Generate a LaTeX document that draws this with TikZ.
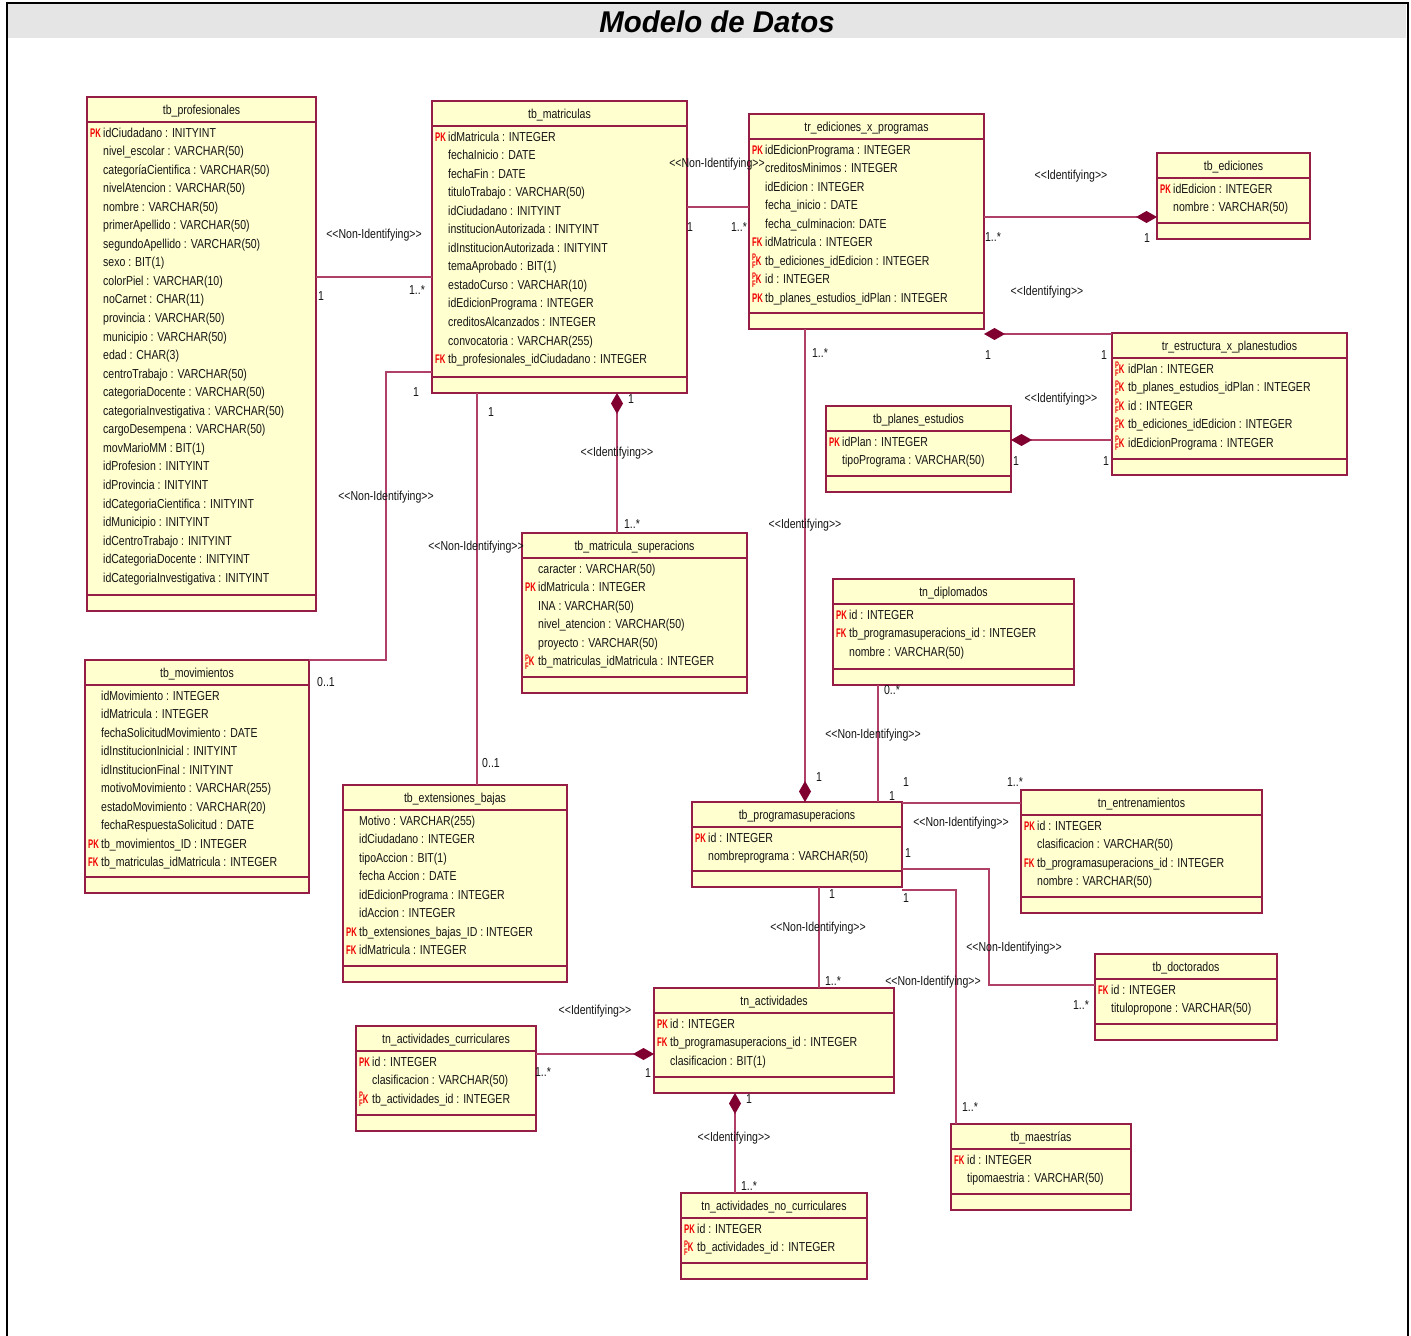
\documentclass[tikz,border=0pt]{standalone}
\usepackage{fontspec}
\usetikzlibrary{arrows.meta}
\newfontfamily\cnd{Liberation Sans}[FakeStretch=0.81]
\newfontfamily\mkf{Liberation Sans}[FakeStretch=0.62]
\newfontfamily\ttl{Liberation Sans}[FakeStretch=0.98]
\definecolor{boxc}{RGB}{150,30,70}
\definecolor{boxf}{RGB}{255,255,208}
\definecolor{connc}{RGB}{176,64,104}
\definecolor{diam}{RGB}{128,0,48}
\definecolor{keyred}{RGB}{240,0,0}
\definecolor{txt}{RGB}{20,20,20}
\definecolor{band}{RGB}{229,229,229}
% key markers
\newcommand\PK{{\fontsize{12.5}{13}\mkf\bfseries\color{keyred}PK}}
\newcommand\FK{{\fontsize{12.5}{13}\mkf\bfseries\color{keyred}FK}}
\newcommand\PF{{\fontsize{12.5}{13}\mkf\bfseries\color{keyred}\rlap{\raisebox{4.5pt}{\fontsize{9.5}{9}\selectfont P}}\raisebox{-3.5pt}{\fontsize{9.5}{9}\selectfont F}K}}
\newcommand\NO{}
\tikzset{
  tbox/.style={draw=boxc, fill=boxf, line width=1.2pt, anchor=north west, inner sep=0pt, outer sep=0pt},
  tsep/.style={draw=boxc, line width=1.2pt},
  ttitle/.style={inner sep=0pt, text height=9.5pt, text depth=2.5pt, text=txt, font={\fontsize{13}{15}\cnd}},
  attr/.style={anchor=west, inner sep=0pt, text height=9.5pt, text depth=2.5pt, text=txt, font={\fontsize{13}{15}\cnd}},
  lbl/.style={inner sep=0pt, text height=9.5pt, text depth=2.5pt, text=txt, font={\fontsize{13}{15}\cnd}},
  conn/.style={draw=connc, line width=1.1pt},
  dia/.tip={Diamond[length=21pt, width=12pt, color=diam, fill=diam]}
}
% table: name, x, y, width, height, title, attribute list
\newcommand\tabla[7]{%
  \node[tbox, minimum width=#4pt, minimum height=#5pt] (#1) at (#2,#3) {};
  \draw[tsep] (#2,#3+25) -- ++(#4,0);
  \draw[tsep] (#2,#3+#5-16) -- ++(#4,0);
  \node[ttitle] (#1-t) at (#2+#4/2,#3+13.5) {#6};
  \foreach \m/\t [count=\i from 0] in {#7}
    \node[attr] (#1-\i) at (#2+3,#3+36.5+18.55*\i) {\makebox[13pt][l]{\m}\t};
}
\begin{document}
\begin{tikzpicture}[x=1pt,y=-1pt]
\useasboundingbox (0,0) rectangle (1411,1336);
% frame and title band
\fill[band] (8,4) rectangle (1406,38);
\draw[black, line width=2pt] (7,1336) -- (7,3) -- (1408,3) -- (1408,1336);
\node[inner sep=0pt, font={\fontsize{30}{34}\ttl\bfseries\itshape}] (titulo) at (717,22) {Modelo de Datos};

% ---------- tables ----------
\tabla{prof}{87}{97}{229}{514}{tb\_profesionales}{%
\PK/idCiudadano : INITYINT,
\NO/nivel\_escolar : VARCHAR(50),
\NO/categoríaCientifica : VARCHAR(50),
\NO/nivelAtencion : VARCHAR(50),
\NO/nombre : VARCHAR(50),
\NO/primerApellido : VARCHAR(50),
\NO/segundoApellido : VARCHAR(50),
\NO/sexo : BIT(1),
\NO/colorPiel : VARCHAR(10),
\NO/noCarnet : CHAR(11),
\NO/provincia : VARCHAR(50),
\NO/municipio : VARCHAR(50),
\NO/edad : CHAR(3),
\NO/centroTrabajo : VARCHAR(50),
\NO/categoriaDocente : VARCHAR(50),
\NO/categoriaInvestigativa : VARCHAR(50),
\NO/cargoDesempena : VARCHAR(50),
\NO/movMarioMM : BIT(1),
\NO/idProfesion : INITYINT,
\NO/idProvincia : INITYINT,
\NO/idCategoriaCientifica : INITYINT,
\NO/idMunicipio : INITYINT,
\NO/idCentroTrabajo : INITYINT,
\NO/idCategoriaDocente : INITYINT,
\NO/idCategoriaInvestigativa : INITYINT}

\tabla{matr}{432}{101}{255}{292}{tb\_matriculas}{%
\PK/idMatricula : INTEGER,
\NO/fechaInicio : DATE,
\NO/fechaFin : DATE,
\NO/tituloTrabajo : VARCHAR(50),
\NO/idCiudadano : INITYINT,
\NO/institucionAutorizada : INITYINT,
\NO/idInstitucionAutorizada : INITYINT,
\NO/temaAprobado : BIT(1),
\NO/estadoCurso : VARCHAR(10),
\NO/idEdicionPrograma : INTEGER,
\NO/creditosAlcanzados : INTEGER,
\NO/convocatoria : VARCHAR(255),
\FK/tb\_profesionales\_idCiudadano : INTEGER}

\tabla{edx}{749}{114}{235}{215}{tr\_ediciones\_x\_programas}{%
\PK/idEdicionPrograma : INTEGER,
\NO/creditosMinimos : INTEGER,
\NO/idEdicion : INTEGER,
\NO/fecha\_inicio : DATE,
\NO/fecha\_culminacion: DATE,
\FK/idMatricula : INTEGER,
\PF/tb\_ediciones\_idEdicion : INTEGER,
\PF/id : INTEGER,
\PK/tb\_planes\_estudios\_idPlan : INTEGER}

\tabla{edic}{1157}{153}{153}{86}{tb\_ediciones}{%
\PK/idEdicion : INTEGER,
\NO/nombre : VARCHAR(50)}

\tabla{estr}{1112}{333}{235}{142}{tr\_estructura\_x\_planestudios}{%
\PF/idPlan : INTEGER,
\PF/tb\_planes\_estudios\_idPlan : INTEGER,
\PF/id : INTEGER,
\PF/tb\_ediciones\_idEdicion : INTEGER,
\PF/idEdicionPrograma : INTEGER}

\tabla{plan}{826}{406}{185}{86}{tb\_planes\_estudios}{%
\PK/idPlan : INTEGER,
\NO/tipoPrograma : VARCHAR(50)}

\tabla{msup}{522}{533}{225}{160}{tb\_matricula\_superacions}{%
\NO/caracter : VARCHAR(50),
\PK/idMatricula : INTEGER,
\NO/INA : VARCHAR(50),
\NO/nivel\_atencion : VARCHAR(50),
\NO/proyecto : VARCHAR(50),
\PF/tb\_matriculas\_idMatricula : INTEGER}

\tabla{dipl}{833}{579}{241}{106}{tn\_diplomados}{%
\PK/id : INTEGER,
\FK/tb\_programasuperacions\_id : INTEGER,
\NO/nombre : VARCHAR(50)}

\tabla{movi}{85}{660}{224}{233}{tb\_movimientos}{%
\NO/idMovimiento : INTEGER,
\NO/idMatricula : INTEGER,
\NO/fechaSolicitudMovimiento : DATE,
\NO/idInstitucionInicial : INITYINT,
\NO/idInstitucionFinal : INITYINT,
\NO/motivoMovimiento : VARCHAR(255),
\NO/estadoMovimiento : VARCHAR(20),
\NO/fechaRespuestaSolicitud : DATE,
\PK/tb\_movimientos\_ID : INTEGER,
\FK/tb\_matriculas\_idMatricula : INTEGER}

\tabla{ext}{343}{785}{224}{197}{tb\_extensiones\_bajas}{%
\NO/Motivo : VARCHAR(255),
\NO/idCiudadano : INTEGER,
\NO/tipoAccion : BIT(1),
\NO/fecha Accion : DATE,
\NO/idEdicionPrograma : INTEGER,
\NO/idAccion : INTEGER,
\PK/tb\_extensiones\_bajas\_ID : INTEGER,
\FK/idMatricula : INTEGER}

\tabla{prog}{692}{802}{210}{85}{tb\_programasuperacions}{%
\PK/id : INTEGER,
\NO/nombreprograma : VARCHAR(50)}

\tabla{entr}{1021}{790}{241}{123}{tn\_entrenamientos}{%
\PK/id : INTEGER,
\NO/clasificacion : VARCHAR(50),
\FK/tb\_programasuperacions\_id : INTEGER,
\NO/nombre : VARCHAR(50)}

\tabla{doct}{1095}{954}{182}{86}{tb\_doctorados}{%
\FK/id : INTEGER,
\NO/titulopropone : VARCHAR(50)}

\tabla{acti}{654}{988}{240}{105}{tn\_actividades}{%
\PK/id : INTEGER,
\FK/tb\_programasuperacions\_id : INTEGER,
\NO/clasificacion : BIT(1)}

\tabla{acur}{356}{1026}{180}{105}{tn\_actividades\_curriculares}{%
\PK/id : INTEGER,
\NO/clasificacion : VARCHAR(50),
\PF/tb\_actividades\_id : INTEGER}

\tabla{anoc}{681}{1193}{186}{86}{tn\_actividades\_no\_curriculares}{%
\PK/id : INTEGER,
\PF/tb\_actividades\_id : INTEGER}

\tabla{maes}{951}{1124}{180}{86}{tb\_maestrías}{%
\FK/id : INTEGER,
\NO/tipomaestria : VARCHAR(50)}

% ---------- relationships ----------
% profesionales - matriculas
\draw[conn] (prof.east |- 0,277) -- (matr.west |- 0,277);
\node[lbl] (sA) at (374,235) {<{}<Non-Identifying>{}>};
\node[lbl] (cA1) at (321,297) {1};
\node[lbl] (cA2) at (417,291) {1..*};
% matriculas - ediciones_x_programas
\draw[conn] (matr.east |- 0,207) -- (edx.west |- 0,207);
\node[lbl] (sB) at (717,164) {<{}<Non-Identifying>{}>};
\node[lbl] (cB1) at (690,228) {1};
\node[lbl] (cB2) at (739,228) {1..*};
% ediciones_x_programas - ediciones
\draw[conn, -dia] (edx.east |- 0,217) -- (edic.west |- 0,217);
\node[lbl] (sC) at (1071,176) {<{}<Identifying>{}>};
\node[lbl] (cC1) at (993,238) {1..*};
\node[lbl] (cC2) at (1147,239) {1};
% ediciones_x_programas - estructura
\draw[conn, dia-] (edx.south east |- 0,334) -- (estr.west |- 0,334);
\node[lbl] (sD) at (1047,292) {<{}<Identifying>{}>};
\node[lbl] (cD1) at (988,356) {1};
\node[lbl] (cD2) at (1104,356) {1};
% planes_estudios - estructura
\draw[conn, dia-] (plan.east |- 0,440) -- (estr.west |- 0,440);
\node[lbl] (sE) at (1061,399) {<{}<Identifying>{}>};
\node[lbl] (cE1) at (1016,462) {1};
\node[lbl] (cE2) at (1106,462) {1};
% matriculas - matricula_superacions
\draw[conn, dia-] (matr.south -| 617,0) -- (msup.north -| 617,0);
\node[lbl] (sF) at (617,453) {<{}<Identifying>{}>};
\node[lbl] (cF1) at (631,400) {1};
\node[lbl] (cF2) at (632,525) {1..*};
% matriculas - movimientos
\draw[conn] (matr.west |- 0,372) -| (movi.north east -| 386,0) -- (movi.north east);
\node[lbl] (sG) at (386,497) {<{}<Non-Identifying>{}>};
\node[lbl] (cG1) at (416,393) {1};
\node[lbl] (cG2) at (326,683) {0..1};
% matriculas - extensiones_bajas
\draw[conn] (matr.south -| 477,0) -- (ext.north -| 477,0);
\node[lbl] (sH) at (476,547) {<{}<Non-Identifying>{}>};
\node[lbl] (cH1) at (491,413) {1};
\node[lbl] (cH2) at (491,764) {0..1};
% ediciones_x_programas - programasuperacions
\draw[conn, -dia] (edx.south -| 805,0) -- (prog.north -| 805,0);
\node[lbl] (sI) at (805,525) {<{}<Identifying>{}>};
\node[lbl] (cI1) at (820,354) {1..*};
\node[lbl] (cI2) at (819,778) {1};
% diplomados - programasuperacions
\draw[conn] (dipl.south -| 878,0) -- (prog.north -| 878,0);
\node[lbl] (sJ) at (873,735) {<{}<Non-Identifying>{}>};
\node[lbl] (cJ1) at (892,691) {0..*};
\node[lbl] (cJ2) at (906,783) {1};
% programasuperacions - entrenamientos
\draw[conn] (prog.east |- 0,803) -- (entr.west |- 0,803);
\node[lbl] (sK) at (961,823) {<{}<Non-Identifying>{}>};
\node[lbl] (cK1) at (892,797) {1};
\node[lbl] (cK2) at (1015,783) {1..*};
% programasuperacions - doctorados
\coordinate (dk) at (989,985);
\draw[conn] (prog.east |- 0,869) -| (dk) -- (doct.west |- dk);
\node[lbl] (sL) at (1014,948) {<{}<Non-Identifying>{}>};
\node[lbl] (cL1) at (908,854) {1};
\node[lbl] (cL2) at (1081,1006) {1..*};
% programasuperacions - maestrias
\draw[conn] (prog.east |- 0,890) -| (maes.north -| 956,0);
\node[lbl] (sM) at (933,982) {<{}<Non-Identifying>{}>};
\node[lbl] (cM1) at (906,899) {1};
\node[lbl] (cM2) at (970,1108) {1..*};
% programasuperacions - actividades
\draw[conn] (prog.south -| 819,0) -- (acti.north -| 819,0);
\node[lbl] (sN) at (818,928) {<{}<Non-Identifying>{}>};
\node[lbl] (cN1) at (832,895) {1};
\node[lbl] (cN2) at (833,982) {1..*};
% actividades - actividades_curriculares
\draw[conn, -dia] (acur.east |- 0,1054) -- (acti.west |- 0,1054);
\node[lbl] (sO) at (595,1011) {<{}<Identifying>{}>};
\node[lbl] (cO1) at (543,1073) {1..*};
\node[lbl] (cO2) at (648,1074) {1};
% actividades - actividades_no_curriculares
\draw[conn, dia-] (acti.south -| 735,0) -- (anoc.north -| 735,0);
\node[lbl] (sP) at (734,1138) {<{}<Identifying>{}>};
\node[lbl] (cP1) at (749,1100) {1};
\node[lbl] (cP2) at (749,1187) {1..*};
\end{tikzpicture}
\end{document}
